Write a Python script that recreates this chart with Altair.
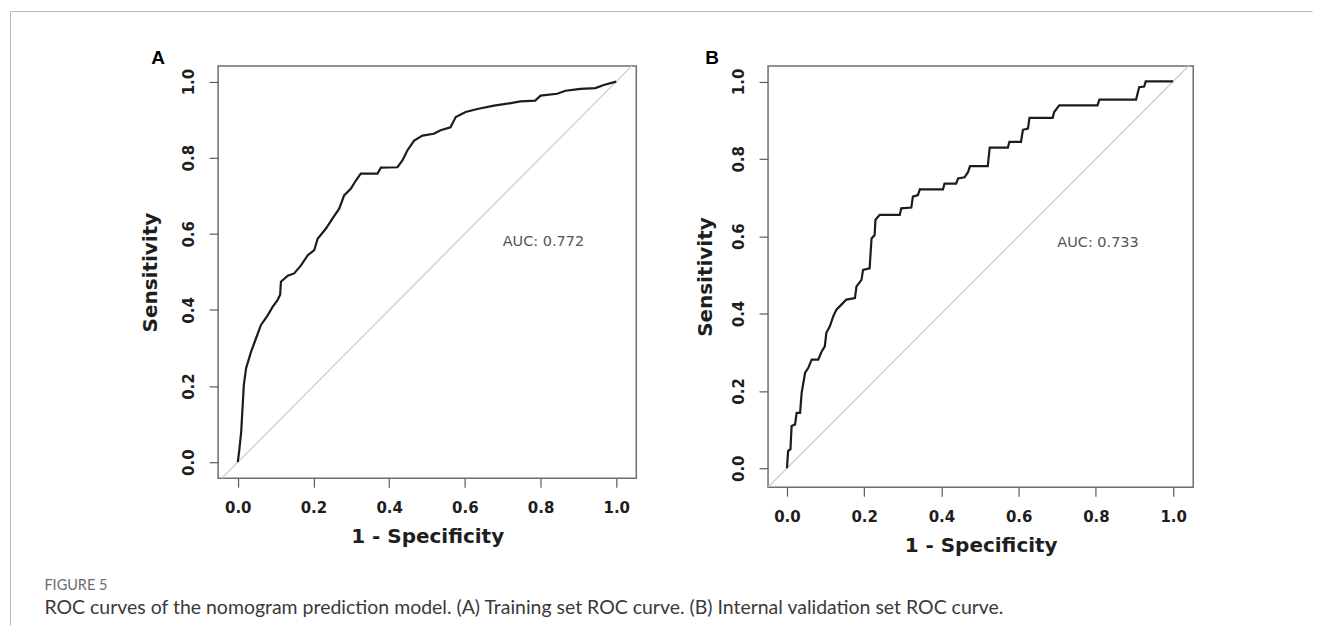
import altair as alt
import pandas as pd

# ---------------- data ----------------
fpr_a = [0.0, 0.004, 0.009, 0.013, 0.016, 0.022, 0.035, 0.048, 0.061, 0.079, 0.092, 0.105, 0.112,
         0.114, 0.132, 0.149, 0.167, 0.185, 0.202, 0.211, 0.233, 0.25, 0.268, 0.281, 0.299, 0.312,
         0.325, 0.369, 0.378, 0.422, 0.435, 0.448, 0.466, 0.488, 0.518, 0.536, 0.562, 0.576, 0.602,
         0.633, 0.677, 0.712, 0.747, 0.786, 0.8, 0.844, 0.866, 0.905, 0.945, 0.967, 1.0]
tpr_a = [0.0, 0.032, 0.08, 0.15, 0.203, 0.247, 0.29, 0.325, 0.36, 0.386, 0.408, 0.426, 0.44,
         0.474, 0.49, 0.496, 0.517, 0.544, 0.557, 0.587, 0.614, 0.64, 0.666, 0.701, 0.719, 0.74,
         0.758, 0.758, 0.774, 0.775, 0.793, 0.819, 0.845, 0.858, 0.863, 0.872, 0.88, 0.907, 0.92,
         0.928, 0.937, 0.942, 0.948, 0.95, 0.963, 0.968, 0.976, 0.981, 0.983, 0.991, 1.0]

fpr_b = [0.0, 0.003, 0.009, 0.012, 0.021, 0.025, 0.034, 0.038, 0.047, 0.055, 0.064, 0.081, 0.09,
         0.098, 0.102, 0.111, 0.12, 0.128, 0.141, 0.154, 0.176, 0.18, 0.193, 0.197, 0.214, 0.219,
         0.227, 0.229, 0.24, 0.292, 0.296, 0.322, 0.326, 0.339, 0.344, 0.404, 0.408, 0.438, 0.443,
         0.46, 0.469, 0.474, 0.52, 0.525, 0.572, 0.576, 0.606, 0.611, 0.624, 0.628, 0.688, 0.692,
         0.705, 0.804, 0.809, 0.904, 0.912, 0.925, 0.929, 1.0]
tpr_b = [0.0, 0.045, 0.049, 0.109, 0.113, 0.143, 0.143, 0.195, 0.247, 0.259, 0.281, 0.281, 0.302,
         0.315, 0.35, 0.367, 0.393, 0.41, 0.423, 0.436, 0.44, 0.47, 0.487, 0.513, 0.517, 0.594,
         0.603, 0.642, 0.655, 0.655, 0.672, 0.674, 0.702, 0.706, 0.721, 0.721, 0.736, 0.736, 0.749,
         0.752, 0.766, 0.781, 0.781, 0.829, 0.829, 0.844, 0.844, 0.875, 0.878, 0.906, 0.906, 0.921,
         0.938, 0.938, 0.953, 0.953, 0.985, 0.987, 1.0, 1.0]

tick_values = [0.0, 0.2, 0.4, 0.6, 0.8, 1.0]
diag_ends = [-0.06, 1.06]
auc_labels = ["AUC: 0.772", "AUC: 0.733"]
auc_x = [0.70, 0.70]
auc_y = [0.568, 0.571]
panel_letters = ["A", "B"]
x_title = "1 - Specificity"
y_title = "Sensitivity"
figure_label = "FIGURE 5"
caption = ("ROC curves of the nomogram prediction model. (A) Training set ROC curve. "
           "(B) Internal validation set ROC curve.")

assert len(fpr_a) == len(tpr_a) and len(fpr_b) == len(tpr_b)

BOLD = "DejaVu Sans"


def panel(fpr, tpr, idx, xdom, ydom, w, h, ytitle_x, letter_x, letter_y, extras=False):
    df = pd.DataFrame({"fpr": fpr, "tpr": tpr, "order": list(range(len(fpr)))})
    xaxis = alt.Axis(values=tick_values, format=".1f", domain=False, grid=False,
                     tickSize=9, tickColor="#5a5a5a", tickWidth=1.2,
                     labelFont=BOLD, labelFontWeight="bold", labelFontSize=15,
                     labelColor="#1e1e1e", labelPadding=13, labelFlush=False,
                     labelOverlap=False, title=x_title, titleFont=BOLD,
                     titleFontWeight="bold", titleFontSize=20, titleColor="#1e1e1e",
                     titleY=64, titleBaseline="alphabetic")
    yaxis = alt.Axis(values=tick_values, format=".1f", domain=False, grid=False,
                     tickSize=9, tickColor="#5a5a5a", tickWidth=1.2,
                     labelFont=BOLD, labelFontWeight="bold", labelFontSize=15,
                     labelColor="#1e1e1e", labelPadding=13, labelFlush=False,
                     labelOverlap=False, labelAngle=-90, labelAlign="center",
                     labelBaseline="bottom", title=y_title, titleFont=BOLD,
                     titleFontWeight="bold", titleFontSize=20, titleColor="#1e1e1e",
                     titleX=ytitle_x, titleY=h / 2, titleAlign="center",
                     titleBaseline="alphabetic", titleAngle=270)
    xenc = alt.X("fpr:Q", scale=alt.Scale(domain=xdom, nice=False, zero=False), axis=xaxis)
    yenc = alt.Y("tpr:Q", scale=alt.Scale(domain=ydom, nice=False, zero=False), axis=yaxis)

    diag_df = pd.DataFrame({"fpr": diag_ends, "tpr": diag_ends})
    diag = alt.Chart(diag_df).mark_line(color="#cdcdcd", strokeWidth=1.3, clip=True).encode(
        x=xenc, y=yenc)
    curve = alt.Chart(df).mark_line(color="#1c1c1c", strokeWidth=2.2).encode(
        x="fpr:Q", y="tpr:Q", order="order:Q")
    auc_df = pd.DataFrame({"fpr": [auc_x[idx]], "tpr": [auc_y[idx]], "label": [auc_labels[idx]]})
    auc = alt.Chart(auc_df).mark_text(align="left", baseline="alphabetic", font="DejaVu Sans",
                                      fontSize=14.5, color="#555555").encode(
        x="fpr:Q", y="tpr:Q", text="label:N")
    letter_df = pd.DataFrame({"label": [panel_letters[idx]]})
    letter = alt.Chart(letter_df).mark_text(align="left", baseline="alphabetic",
                                            font="Liberation Sans", fontWeight="bold",
                                            fontSize=19, color="#000000").encode(
        x=alt.value(letter_x), y=alt.value(letter_y), text="label:N")
    layers = [diag, curve, auc, letter]
    if extras:
        one = pd.DataFrame({"label": [figure_label], "cap": [caption]})
        top_line = alt.Chart(one).mark_rule(color="#b8b8b8", strokeWidth=1).encode(
            x=alt.value(-208), x2=alt.value(1096.5), y=alt.value(-54.5))
        left_line = alt.Chart(one).mark_rule(color="#b8b8b8", strokeWidth=1).encode(
            x=alt.value(-208), y=alt.value(-54.5), y2=alt.value(560.5))
        fig = alt.Chart(one).mark_text(align="left", baseline="alphabetic", font="Lato",
                                       fontSize=14.5, color="#6d6d6d").encode(
            x=alt.value(-174), y=alt.value(525.5), text="label:N")
        cap = alt.Chart(one).mark_text(align="left", baseline="alphabetic", font="Lato",
                                       fontSize=19.5, color="#3a3a3a").encode(
            x=alt.value(-174), y=alt.value(549), text="cap:N")
        layers += [top_line, left_line, fig, cap]
    return alt.layer(*layers).properties(width=w, height=h)


pa = panel(fpr_a, tpr_a, 0, [-0.052, 1.053], [-0.042, 1.041], 419, 413, -61.5, -67, -1.5,
           extras=True)
pb = panel(fpr_b, tpr_b, 1, [-0.049, 1.052], [-0.049, 1.040], 426, 422, -57, -63, -1.8)

chart = alt.hconcat(pa, pb, spacing=132, bounds="flush").properties(
    padding={"left": 0.5, "top": 1.5, "right": 0, "bottom": 0},
    background="white",
).configure_view(stroke="#6e6e6e", strokeWidth=1.5)

chart.save("out.html", embed_options={"renderer": "svg", "actions": False})
